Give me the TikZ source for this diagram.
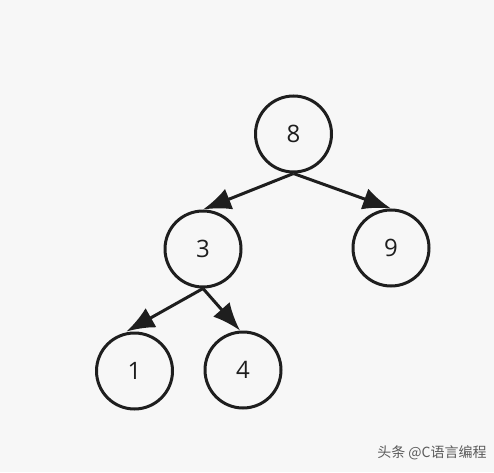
\documentclass[tikz,border=0pt]{standalone}
\usepackage{fontspec}
\setmainfont{Open Sans}
\newfontfamily\cjk{Noto Sans CJK SC}
\usetikzlibrary{positioning,arrows.meta}
\definecolor{bgcol}{HTML}{F7F7F7}
\definecolor{inkcol}{HTML}{1E1E1E}
\definecolor{markcol}{HTML}{5A5A5A}
\begin{document}
\begin{tikzpicture}[
	x=1pt,y=1pt,
	key/.style={
		draw=inkcol,
		circle,
		line width=3pt,
		minimum size=76pt,
		inner sep=0pt,
		text=inkcol,
		font=\fontsize{24}{24}\selectfont
	},
	link/.style={
		draw=inkcol,
		line width=3pt,
		-{Latex[length=28pt,width=22pt]}
	}
	]
	\fill[bgcol] (0,0) rectangle (494,472);
	\useasboundingbox (0,0) rectangle (494,472);
	% tree nodes
	\node[key] (n8) at (293.5,338) {8};
	\node[key] (n3) at (203,223) {3};
	\node[key] (n9) at (391,224) {9};
	\node[key] (n1) at (134.5,101) {1};
	\node[key] (n4) at (243,102) {4};
	% edges
	\draw[link] (n8.south) -- (n3.north);
	\draw[link] (n8.south) -- (n9.north);
	\draw[link] (n3.south) -- ([xshift=-8pt]n1.north);
	\draw[link] (n3.south) -- ([xshift=-3pt]n4.north);
	% watermark
	\node[text=markcol,font=\cjk\fontsize{14}{14}\selectfont] (mark) at (432,19) {头条 @C语言编程};
\end{tikzpicture}
\end{document}
